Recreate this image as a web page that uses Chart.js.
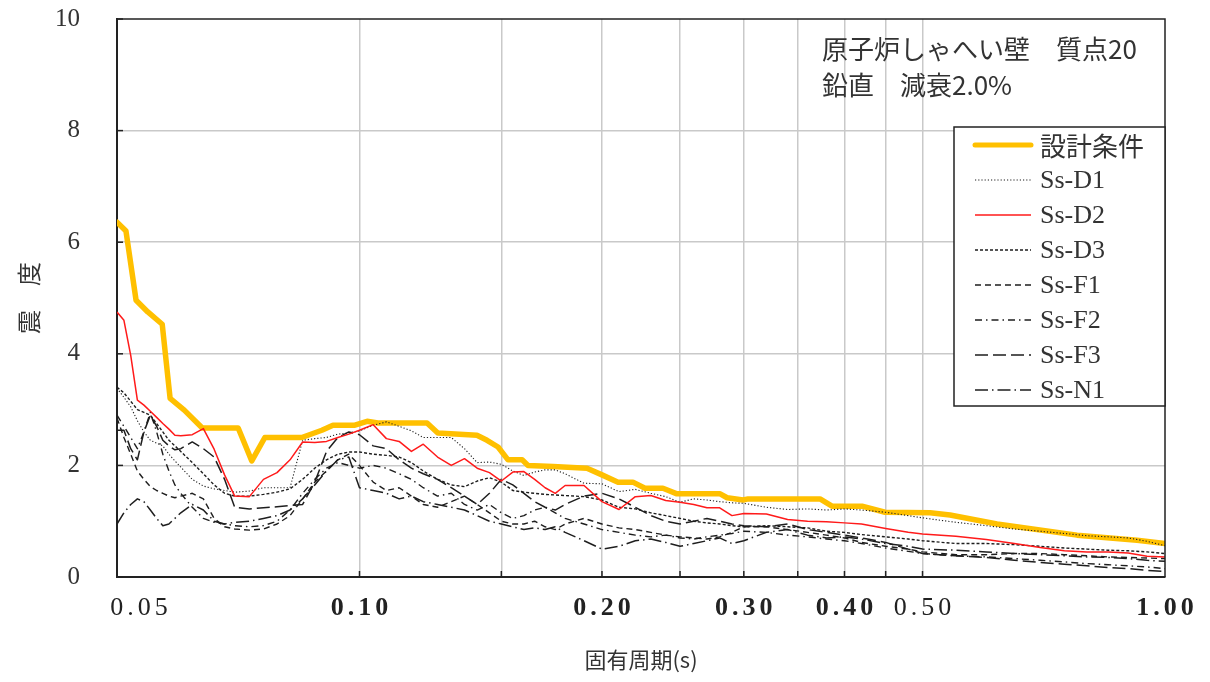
<!DOCTYPE html>
<html><head><meta charset="utf-8">
<script src="https://cdn.jsdelivr.net/npm/chart.js@4.4.1/dist/chart.umd.min.js"></script>
<style>html,body{margin:0;padding:0;background:#fff}#wrap{width:1210px;height:682px;position:relative}</style>
</head><body><div id="wrap"><canvas id="c" width="1210" height="682"></canvas></div>
<script>
// ---- data ----
const periods = [
  0.050,0.051,0.052,0.053,0.054,0.055,0.056,0.057,0.058,0.059,0.060,
  0.062,0.064,0.066,0.068,0.070,
  0.073,0.076,0.079,0.082,0.085,0.088,0.091,0.094,0.097,
  0.100,0.104,0.108,0.112,0.116,0.120,
  0.125,0.130,0.135,0.140,0.145,0.150,0.155,0.160,0.165,0.170,0.175,0.180,
  0.190,0.200,0.210,0.220,0.230,0.240,0.250,0.260,0.270,0.280,0.290,0.300,
  0.320,0.340,0.360,0.380,0.400,
  0.420,0.450,0.480,0.500,
  0.550,0.600,0.650,0.700,0.750,0.800,0.850,0.900,0.950,1.000
];
const designPeriods = [0.0500,0.0513,0.0528,0.0546,0.0569,0.0582,0.0606,0.0638,0.0707,0.0735,0.0763,0.0848,0.0898,0.0927,0.0987,0.1022,0.1054,0.1213,0.1251,0.1399,0.1440,0.1486,0.1529,0.1592,0.1619,0.1739,0.1916,0.2000,0.2094,0.2185,0.2262,0.2381,0.2478,0.2804,0.2860,0.2994,0.3037,0.3730,0.3860,0.4206,0.4492,0.5109,0.5409,0.6187,0.7777,0.9233,1.0000];
const designValues  = [6.36,6.20,4.96,4.75,4.53,3.20,2.99,2.67,2.67,2.08,2.50,2.50,2.63,2.72,2.72,2.79,2.76,2.76,2.58,2.54,2.45,2.33,2.10,2.10,2.00,1.98,1.95,1.83,1.70,1.70,1.59,1.59,1.49,1.49,1.42,1.38,1.40,1.40,1.27,1.27,1.16,1.15,1.11,0.95,0.75,0.66,0.60];
const ssD1 = [3.38,3.22,3.05,2.80,2.60,2.45,2.40,2.35,2.20,2.08,1.97, 1.75,1.63,1.58,1.55,1.52, 1.54,1.60,1.60,1.60,2.45,2.48,2.50,2.56,2.58, 2.62,2.72,2.78,2.70,2.62,2.50, 2.50,2.50,2.30,2.05,2.06,2.02,1.90,1.82,1.88,1.92,1.92,1.85, 1.68,1.67,1.53,1.57,1.50,1.44,1.34,1.40,1.38,1.35,1.33,1.32, 1.25,1.21,1.22,1.20,1.22, 1.20,1.16,1.10,1.06, 0.98,0.92,0.86,0.82,0.78,0.74,0.72,0.70,0.64,0.56];
const ssD2 = [4.75,4.60,3.97,3.17,3.08,2.97,2.86,2.75,2.65,2.54,2.53, 2.55,2.66,2.29,1.83,1.45, 1.44,1.75,1.87,2.10,2.42,2.41,2.43,2.50,2.56, 2.63,2.73,2.48,2.43,2.25,2.38, 2.15,2.00,2.12,1.95,1.87,1.72,1.88,1.89,1.75,1.60,1.50,1.64, 1.64,1.35,1.21,1.44,1.46,1.37,1.34,1.30,1.24,1.24,1.10,1.14, 1.13,1.03,1.00,0.99,0.97, 0.95,0.87,0.80,0.77, 0.73,0.67,0.60,0.53,0.47,0.45,0.45,0.43,0.37,0.36];
const ssD3 = [3.40,3.30,3.15,3.00,2.95,2.90,2.75,2.60,2.45,2.35,2.25, 2.05,1.85,1.65,1.50,1.45, 1.45,1.48,1.52,1.58,1.75,1.95,2.10,2.20,2.24, 2.24,2.20,2.18,2.15,2.05,1.90, 1.75,1.65,1.62,1.72,1.78,1.70,1.55,1.52,1.50,1.48,1.47,1.46, 1.44,1.38,1.25,1.22,1.15,1.10,1.05,1.00,0.97,0.95,0.92,0.90, 0.92,0.90,0.88,0.82,0.80, 0.76,0.72,0.68,0.65, 0.60,0.60,0.58,0.55,0.52,0.50,0.48,0.47,0.45,0.42];
const ssF1 = [2.85,2.50,2.20,1.90,1.75,1.62,1.55,1.50,1.45,1.42,1.45, 1.50,1.40,1.05,0.90,0.86, 0.84,0.86,0.95,1.10,1.40,1.70,1.90,2.10,2.20, 2.00,1.70,1.55,1.60,1.45,1.30, 1.25,1.35,1.45,1.30,1.15,1.00,0.95,0.95,1.00,0.90,0.85,0.95, 1.05,0.95,0.88,0.85,0.80,0.75,0.72,0.70,0.68,0.72,0.80,0.90, 0.90,0.85,0.80,0.75,0.70, 0.62,0.55,0.50,0.45, 0.40,0.40,0.42,0.42,0.40,0.38,0.36,0.35,0.34,0.33];
const ssF2 = [2.90,2.70,2.50,2.30,2.60,2.95,2.60,2.20,1.90,1.65,1.50, 1.25,1.05,0.98,0.95,0.92, 0.90,0.92,1.00,1.20,1.50,1.75,1.95,2.05,2.00, 1.95,2.00,1.95,1.85,1.75,1.60, 1.45,1.50,1.30,1.20,1.30,1.15,1.05,1.10,1.20,1.25,1.15,1.05, 0.95,0.85,0.80,0.75,0.72,0.75,0.70,0.68,0.72,0.75,0.78,0.82, 0.80,0.75,0.72,0.68,0.65, 0.60,0.52,0.46,0.42, 0.38,0.36,0.33,0.30,0.27,0.24,0.22,0.20,0.18,0.15];
const ssF3 = [2.63,2.63,2.30,2.10,2.60,2.90,2.70,2.45,2.35,2.28,2.30, 2.42,2.30,2.15,1.75,1.25, 1.22,1.24,1.26,1.28,1.30,1.70,2.25,2.50,2.60, 2.55,2.35,2.30,2.10,1.95,1.85, 1.75,1.60,1.45,1.30,1.50,1.75,1.65,1.50,1.35,1.25,1.20,1.30, 1.45,1.50,1.40,1.25,1.10,1.00,0.95,1.00,1.05,1.00,0.95,0.92, 0.90,0.95,0.85,0.80,0.75, 0.70,0.62,0.50,0.42, 0.38,0.35,0.30,0.26,0.23,0.20,0.17,0.15,0.12,0.10];
const ssN1 = [0.95,1.15,1.30,1.40,1.35,1.20,1.05,0.92,0.95,1.05,1.15, 1.30,1.20,1.00,0.95,0.98, 1.00,1.05,1.10,1.20,1.40,1.65,1.90,2.10,2.15, 1.60,1.55,1.50,1.40,1.45,1.35, 1.30,1.25,1.20,1.10,1.00,0.95,0.90,0.85,0.88,0.85,0.90,0.80, 0.65,0.50,0.55,0.65,0.68,0.62,0.55,0.60,0.65,0.70,0.60,0.65, 0.80,0.85,0.75,0.70,0.72, 0.68,0.60,0.55,0.50, 0.48,0.45,0.42,0.40,0.38,0.36,0.35,0.33,0.30,0.28];

const seriesNames = ['設計条件','Ss-D1','Ss-D2','Ss-D3','Ss-F1','Ss-F2','Ss-F3','Ss-N1'];
const xTickValues = [0.05,0.10,0.20,0.30,0.40,0.50,1.00];
const xTickLabels = ['0.05','0.10','0.20','0.30','0.40','0.50','1.00'];
const xTickBold   = [false,true,true,true,true,false,true];
const xGridValues = [0.10,0.15,0.20,0.25,0.30,0.35,0.40,0.45,0.50];
const yTickValues = [0,2,4,6,8,10];
const noteLines = ['原子炉しゃへい壁　質点20','鉛直　減衰2.0%'];
const xTitle = '固有周期(s)';
const yTitle = '震　度';

// ---- chart ----
const pts = (xs, ys) => xs.map((t, i) => ({x: t, y: ys[i]}));
const BLACK = '#1e1e1e';
const styles = [
  {c:'#FFC000', w:5.5, d:[]},
  {c:BLACK, w:1.1, d:[1.2,2]},
  {c:'#FF1A1A', w:1.5, d:[]},
  {c:BLACK, w:1.4, d:[3,2]},
  {c:BLACK, w:1.4, d:[6,4]},
  {c:BLACK, w:1.4, d:[7,4,1.5,4]},
  {c:BLACK, w:1.5, d:[13,5]},
  {c:BLACK, w:1.5, d:[13,4,1.5,4]}
];
const seriesData = [pts(designPeriods, designValues), pts(periods, ssD1), pts(periods, ssD2), pts(periods, ssD3), pts(periods, ssF1), pts(periods, ssF2), pts(periods, ssF3), pts(periods, ssN1)];
const datasets = seriesData.map((d, i) => ({
  label: seriesNames[i], data: d,
  borderColor: styles[i].c, borderWidth: styles[i].w, borderDash: styles[i].d,
  pointRadius: 0, tension: 0, fill: false,
  borderJoinStyle: 'round', borderCapStyle: i === 0 ? 'round' : 'butt',
  order: i === 0 ? 2 : (i === 2 ? 0 : 1)
}));

const SERIF = '"Liberation Serif", "DejaVu Serif", serif';
const CJK = '"Noto Sans CJK JP", "Noto Sans", sans-serif';

const decorPlugin = {
  id: 'decor',
  afterDraw(chart) {
    const {ctx, chartArea: a, scales: {x, y}} = chart;
    ctx.save();
    // frame top/right
    ctx.strokeStyle = '#222'; ctx.lineWidth = 1.5;
    ctx.beginPath(); ctx.moveTo(a.left, a.top); ctx.lineTo(a.right, a.top); ctx.lineTo(a.right, a.bottom); ctx.stroke();
    // inward tick marks
    ctx.lineWidth = 1.5;
    yTickValues.forEach(v => { const py = y.getPixelForValue(v); ctx.beginPath(); ctx.moveTo(a.left, py); ctx.lineTo(a.left + 6, py); ctx.stroke(); });
    xGridValues.forEach(v => { const px = x.getPixelForValue(v); ctx.beginPath(); ctx.moveTo(px, a.bottom); ctx.lineTo(px, a.bottom - 6); ctx.stroke(); });
    // x tick labels
    ctx.fillStyle = '#222'; ctx.textAlign = 'center'; ctx.textBaseline = 'middle';
    try { ctx.letterSpacing = '4px'; } catch (e) {}
    xTickValues.forEach((v, i) => {
      ctx.font = (xTickBold[i] ? 'bold ' : '') + '26px ' + SERIF;
      let px = x.getPixelForValue(v) + 2;
      if (i === 0) px += 22;
      ctx.fillText(xTickLabels[i], px, 608);
    });
    try { ctx.letterSpacing = '0px'; } catch (e) {}
    // note text
    ctx.textAlign = 'left'; ctx.fillStyle = '#333';
    ctx.font = '26px ' + CJK;
    ctx.fillText(noteLines[0], 822, 49);
    ctx.fillText(noteLines[1], 822, 85);
    // legend
    const L = 954, T = 127, R = a.right, B = 406;
    ctx.fillStyle = '#fff'; ctx.fillRect(L, T, R - L, B - T);
    ctx.strokeStyle = '#222'; ctx.lineWidth = 1.5; ctx.setLineDash([]);
    ctx.strokeRect(L, T, R - L, B - T);
    chart.data.datasets.forEach((ds, i) => {
      const cy = 145 + i * 35;
      ctx.save();
      ctx.strokeStyle = ds.borderColor; ctx.lineWidth = i === 0 ? 5 : Math.max(1, ds.borderWidth);
      ctx.setLineDash(ds.borderDash || []); ctx.lineCap = i === 0 ? 'round' : 'butt';
      ctx.beginPath(); ctx.moveTo(975, cy); ctx.lineTo(1031, cy); ctx.stroke();
      ctx.restore();
      ctx.fillStyle = '#333'; ctx.textBaseline = 'middle';
      ctx.font = i === 0 ? ('26px ' + CJK) : ('26px ' + SERIF);
      ctx.fillText(ds.label, 1040, cy + 1);
    });
    ctx.restore();
  }
};

new Chart(document.getElementById('c'), {
  type: 'line',
  data: {datasets},
  options: {
    responsive: false, animation: false, parsing: true,
    layout: {padding: {left: 0, top: 19, right: 45, bottom: 0}},
    plugins: {legend: {display: false}, tooltip: {enabled: false}},
    scales: {
      x: {
        type: 'logarithmic', min: 0.05, max: 1.0,
        afterBuildTicks: s => { s.ticks = [0.05].concat(xGridValues, [1.0]).map(v => ({value: v})); },
        afterFit: s => { s.height = 105; s.paddingLeft = 0; s.paddingRight = 0; },
        ticks: {display: false},
        grid: {drawTicks: false, lineWidth: 1.5,
          color: c => (c.tick && (c.tick.value === 0.05 || c.tick.value === 1.0)) ? 'rgba(0,0,0,0)' : '#c9c9c9'},
        border: {display: true, color: '#222', width: 2},
        title: {display: true, text: xTitle, color: '#333', font: {family: CJK, size: 22}, padding: {top: 0, bottom: 9}}
      },
      y: {
        min: 0, max: 10,
        afterBuildTicks: s => { s.ticks = yTickValues.map(v => ({value: v})); },
        afterFit: s => { s.width = 117; s.paddingTop = 0; s.paddingBottom = 0; },
        ticks: {color: '#333', font: {family: SERIF, size: 25}, padding: 37},
        grid: {drawTicks: false, lineWidth: 1.5,
          color: c => (c.tick && (c.tick.value === 0 || c.tick.value === 10)) ? 'rgba(0,0,0,0)' : '#c9c9c9'},
        border: {display: true, color: '#222', width: 2},
        title: {display: true, text: yTitle, color: '#333', font: {family: CJK, size: 24}, padding: {top: 14, bottom: 0}}
      }
    }
  },
  plugins: [decorPlugin]
});
</script></body></html>
